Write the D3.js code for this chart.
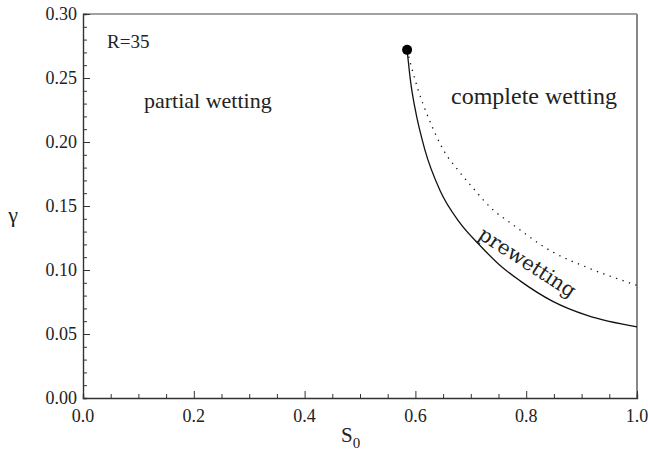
<!DOCTYPE html>
<html lang="en">
<head>
  <meta charset="UTF-8">
  <title>Wetting phase diagram</title>
  <style>
    body { margin: 0; background: #fff; }
    text { font-family: "Liberation Serif", "Times New Roman", Times, serif; fill: #222; }
  </style>
</head>
<body>
  <div id="chart"></div>
  <script src="https://d3js.org/d3.v7.min.js"></script>
  <script>
    // data
    const solidS0 = [0.585, 0.592, 0.599, 0.617, 0.644, 0.680, 0.717, 0.753, 0.789, 0.848, 0.910, 1.0];
    const solidGamma = [0.272, 0.245, 0.227, 0.194, 0.1625, 0.137, 0.119, 0.1035, 0.0915, 0.0755, 0.0645, 0.0555];
    const dottedS0 = [0.585, 0.592, 0.605, 0.623, 0.653, 0.677, 0.704, 0.740, 0.771, 0.848, 0.910, 1.0];
    const dottedGamma = [0.272, 0.260, 0.2406, 0.2195, 0.192, 0.178, 0.164, 0.147, 0.137, 0.114, 0.102, 0.088];
    const criticalPoint = [0.585, 0.272];
    const xTicks = [0.0, 0.2, 0.4, 0.6, 0.8, 1.0];
    const yTicks = [0.00, 0.05, 0.10, 0.15, 0.20, 0.25, 0.30];

    const width = 648, height = 450;
    const margin = { left: 83, right: 11, top: 14, bottom: 52 };

    const x = d3.scaleLinear().domain([0, 1]).range([margin.left, width - margin.right]);
    const y = d3.scaleLinear().domain([0, 0.30]).range([height - margin.bottom, margin.top]);

    const svg = d3.select('#chart').append('svg')
      .attr('width', width)
      .attr('height', height);

    // frame
    svg.append('line')
      .attr('x1', x(0)).attr('x2', x(1)).attr('y1', y(0.30)).attr('y2', y(0.30))
      .attr('stroke', '#444').attr('stroke-width', 1.2);
    svg.append('line')
      .attr('x1', x(1)).attr('x2', x(1)).attr('y1', y(0.30)).attr('y2', y(0))
      .attr('stroke', '#888').attr('stroke-width', 2);

    // axes, ticks pointing inward
    const xAxis = svg.append('g').attr('transform', `translate(0,${y(0)})`)
      .call(d3.axisTop(x).tickValues(d3.range(0, 1.0001, 0.05)).tickSize(4).tickFormat(''));
    xAxis.selectAll('.tick line')
      .filter(d => Math.abs(d * 5 - Math.round(d * 5)) < 1e-6)
      .attr('y2', -7);

    const yAxis = svg.append('g').attr('transform', `translate(${x(0)},0)`)
      .call(d3.axisRight(y).tickValues(d3.range(0, 0.30001, 0.01)).tickSize(4).tickFormat(''));
    yAxis.selectAll('.tick line')
      .filter(d => Math.abs(d * 20 - Math.round(d * 20)) < 1e-6)
      .attr('x2', 7);

    svg.selectAll('.domain').attr('stroke', '#333').attr('stroke-width', 1.4);
    svg.selectAll('.tick line').attr('stroke', '#333');

    // tick labels
    svg.selectAll('.xlab').data(xTicks).enter().append('text')
      .style('font-size', '18px')
      .attr('x', d => x(d))
      .attr('y', y(0) + 24)
      .attr('text-anchor', 'middle')
      .text(d => d.toFixed(1));

    svg.selectAll('.ylab').data(yTicks).enter().append('text')
      .style('font-size', '18px')
      .attr('x', x(0) - 6)
      .attr('y', d => y(d) + 6)
      .attr('text-anchor', 'end')
      .text(d => d.toFixed(2));

    // axis titles
    const xt = svg.append('text')
      .attr('x', 341).attr('y', 442)
      .style('font-size', '21px')
      .text('S');
    xt.append('tspan').style('font-size', '15px').attr('dy', 6).text('0');

    svg.append('text')
      .attr('x', 13).attr('y', 222)
      .style('font-size', '22px')
      .attr('text-anchor', 'middle')
      .text('γ');

    // curves
    const line = d3.line()
      .x(d => x(d[0]))
      .y(d => y(d[1]))
      .curve(d3.curveMonotoneX);

    svg.append('path')
      .datum(d3.zip(solidS0, solidGamma))
      .attr('d', line)
      .attr('fill', 'none')
      .attr('stroke', '#111')
      .attr('stroke-width', 1.3);

    svg.append('path')
      .datum(d3.zip(dottedS0, dottedGamma))
      .attr('d', line)
      .attr('fill', 'none')
      .attr('stroke', '#111')
      .attr('stroke-width', 1.3)
      .attr('stroke-dasharray', '1.3,5.5');

    svg.append('circle')
      .attr('cx', x(criticalPoint[0]))
      .attr('cy', y(criticalPoint[1]))
      .attr('r', 5)
      .attr('fill', '#000');

    // annotations
    svg.append('text')
      .attr('x', 107).attr('y', 48).style('font-size', '19px').text('R=35');
    svg.append('text')
      .attr('x', 144).attr('y', 108).style('font-size', '22px').text('partial wetting');
    svg.append('text')
      .attr('x', 451).attr('y', 104).style('font-size', '24px').text('complete wetting');
    svg.append('text')
      .attr('transform', 'translate(527,263) rotate(33)')
      .attr('text-anchor', 'middle')
      .attr('dy', 6)
      .style('font-family', '"DejaVu Serif", serif')
      .style('font-size', '20px')
      .text('prewetting');
  </script>
</body>
</html>
